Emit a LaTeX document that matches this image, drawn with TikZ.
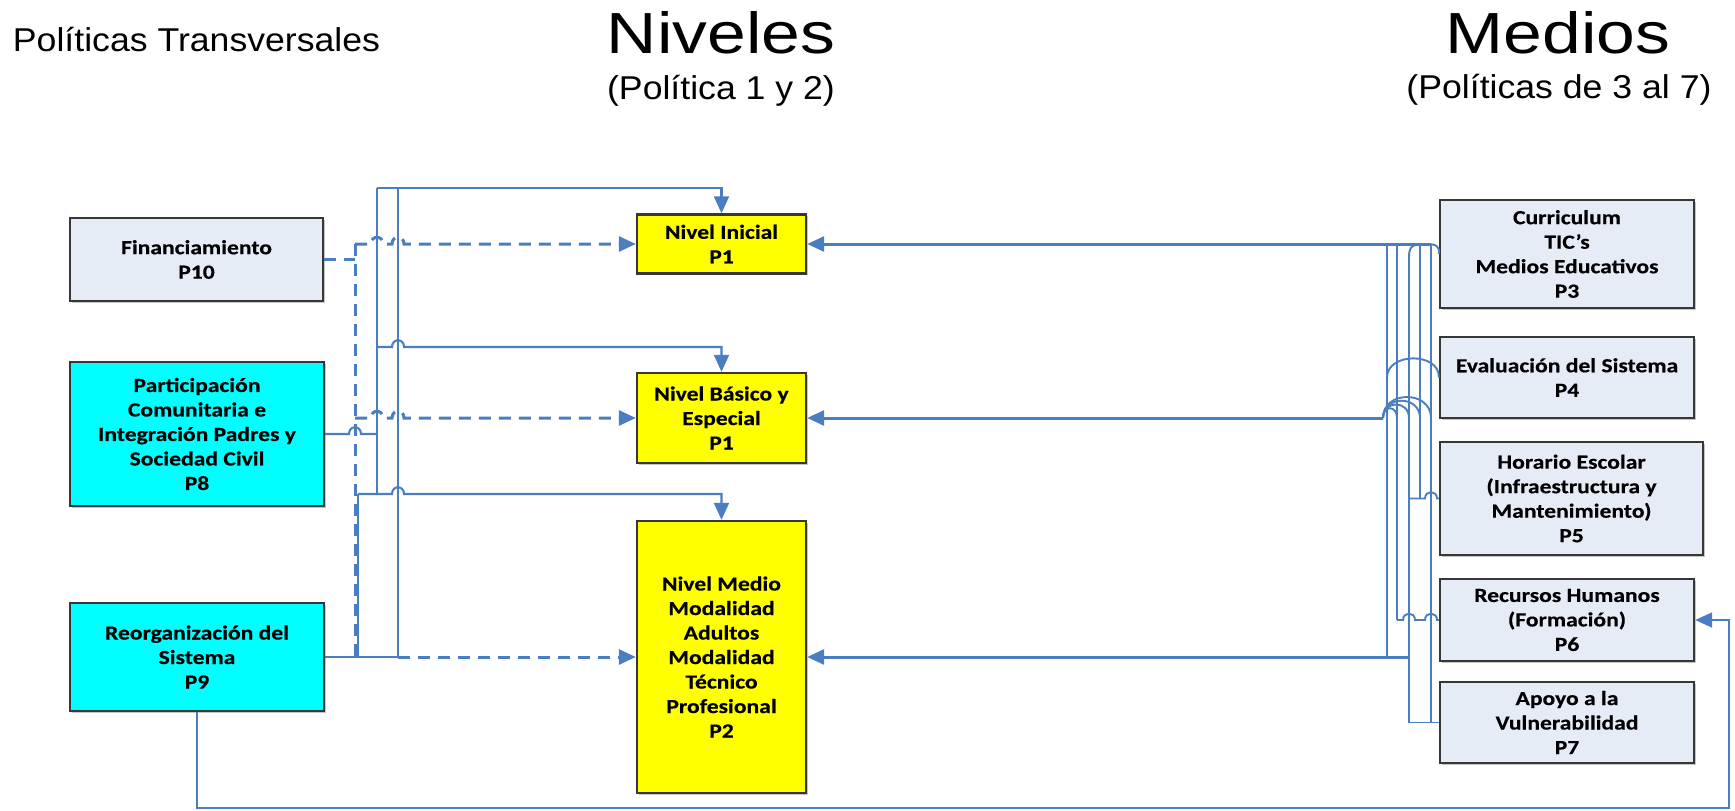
\documentclass[tikz,border=0pt]{standalone}
\usepackage{fontspec}
\setmainfont{Liberation Sans}
\newfontfamily\boxfont{Carlito}[FakeStretch=1.18,FakeBold=0.4]
\newfontfamily\headfont{Liberation Sans}[FakeStretch=1.2]
\newfontfamily\subfont{Liberation Sans}[FakeStretch=1.08]
\usetikzlibrary{arrows.meta,shadows}
\definecolor{linec}{RGB}{74,126,193}
\definecolor{lightfill}{RGB}{230,236,246}
\definecolor{boxborder}{RGB}{55,55,55}
\definecolor{cyanfill}{RGB}{0,255,255}
\definecolor{yellowfill}{RGB}{255,255,0}
\tikzset{
  box/.style={draw=boxborder, line width=2.4pt, align=center, inner sep=0pt,
    font=\boxfont\bfseries\fontsize{20}{24.5}\selectfont,
    drop shadow={shadow xshift=1.5pt, shadow yshift=-1.5pt, fill=black!45, opacity=0.5}},
  graybox/.style={box, fill=lightfill},
  cyanbox/.style={box, fill=cyanfill},
  yellowbox/.style={box, fill=yellowfill},
  tip/.style={-{Triangle[length=17pt,width=15pt]}},
  sol/.style={draw=linec, line width=2.1pt},
  solthick/.style={draw=linec, line width=3pt},
  rv/.style={draw=linec, line width=1.9pt},
  fb/.style={draw=linec, line width=1.8pt},
  dsh/.style={draw=linec, line width=3pt, dash pattern=on 12pt off 8pt},
}
\begin{document}
\begin{tikzpicture}[x=1pt,y=-1pt]
\useasboundingbox (0,0) rectangle (1735,811);

% headings
\node[font=\subfont\fontsize{33}{38}\selectfont] (ht) at (196.5,39.5) {Políticas Transversales};
\node[font=\headfont\fontsize{58}{64}\selectfont] (hn) at (721,33) {Niveles};
\node[font=\subfont\fontsize{33}{38}\selectfont] (hns) at (721,91) {(Política 1 y 2)};
\node[font=\headfont\fontsize{58}{64}\selectfont] (hm) at (1558,33) {Medios};
\node[font=\subfont\fontsize{33}{38}\selectfont] (hms) at (1559,90) {(Políticas de 3 al 7)};

% left boxes
\node[graybox, minimum width=253pt, minimum height=83pt] (fin) at (196.5,259.5) {Financiamiento\\P10};
\node[cyanbox, minimum width=254pt, minimum height=144pt] (p8) at (197,434) {Participación\\Comunitaria e\\Integración Padres y\\Sociedad Civil\\P8};
\node[cyanbox, minimum width=254pt, minimum height=108pt] (p9) at (197,657) {Reorganización del\\Sistema\\P9};

% middle boxes
\node[yellowbox, minimum width=169pt, minimum height=59pt] (ini) at (721.5,244) {Nivel Inicial\\P1};
\node[yellowbox, minimum width=169pt, minimum height=90pt] (bas) at (721.5,418) {Nivel Básico y\\Especial\\P1};
\node[yellowbox, minimum width=169pt, minimum height=272pt] (med) at (721.5,657) {Nivel Medio\\Modalidad\\Adultos\\Modalidad\\Técnico\\Profesional\\P2};

% right boxes
\node[graybox, minimum width=254pt, minimum height=108pt] (p3) at (1567,254) {Curriculum\\TIC’s\\Medios Educativos\\P3};
\node[graybox, minimum width=254pt, minimum height=81pt] (p4) at (1567,377.5) {Evaluación del Sistema\\P4};
\node[graybox, minimum width=263pt, minimum height=113pt] (p5) at (1571.5,498.5) {Horario Escolar\\(Infraestructura y\\Mantenimiento)\\P5};
\node[graybox, minimum width=254pt, minimum height=82pt] (p6) at (1567,620) {Recursos Humanos\\(Formación)\\P6};
\node[graybox, minimum width=254pt, minimum height=81pt] (p7) at (1567,722.5) {Apoyo a la\\Vulnerabilidad\\P7};

% ---- left dashed network
\draw[dsh] (fin.east) -- (355,259.5);
\draw[dsh] (355,244) -- (355,657);
\draw[dsh,tip] (355,244) -- (371,244) .. controls (371,235) and (383,235) .. (383,244) -- (392,244) .. controls (392,235) and (404,235) .. (404,244) -- (ini.west);
\draw[dsh,tip] (355,418) -- (371,418) .. controls (371,409) and (383,409) .. (383,418) -- (392,418) .. controls (392,409) and (404,409) .. (404,418) -- (bas.west);
\draw[dsh,tip] (398,657) -- (med.west);

% ---- left solid network
\draw[sol] (377,188) -- (377,494);
\draw[sol] (398,188) -- (398,657);
\draw[sol] (358,494) -- (358,657);
\draw[sol] (p8.east) -- (349,434) .. controls (349,425) and (361,425) .. (361,434) -- (377,434);
\draw[sol] (p9.east) -- (398,657);
\draw[sol,tip] (377,188) -- (ini.north |- 0,188) -- (ini.north);
\draw[sol,tip] (377,347) -- (392,347) .. controls (392,338) and (404,338) .. (404,347) -- (bas.north |- 0,347) -- (bas.north);
\draw[sol,tip] (358,494) -- (392,494) .. controls (392,485) and (404,485) .. (404,494) -- (med.north |- 0,494) -- (med.north);

% ---- feedback line
\draw[fb,tip] (p9.south) -- (197,808) -- (1729,808) -- (1729,620) -- (p6.east);

% ---- right network
\draw[solthick,tip] (1431,244) -- (ini.east);
\draw[solthick,tip] (1383,418) -- (bas.east);
\draw[solthick,tip] (1409,657) -- (med.east);
\draw[rv] (1387,244) -- (1387,657);
\draw[rv] (1397,244) -- (1397,620);
\draw[rv] (1409,257) -- (1409,722.5);
\draw[rv] (1420,244) -- (1420,498.5);
\draw[rv] (1431,244) -- (1431,722.5);
\draw[rv] (p3.west) .. controls (1440,246) and (1436,244) .. (1426,244);
\draw[rv] (1409,257) .. controls (1409,249) and (1411,245) .. (1417,245);
\draw[rv] (p4.west) .. controls (1440,352) and (1387,352) .. (1387,377.5);
\draw[rv] (p5.west) -- (1437,498.5) .. controls (1437,490) and (1425,490) .. (1425,498.5) -- (1409,498.5);
\draw[rv] (p6.west) -- (1437,620) .. controls (1437,611.5) and (1425,611.5) .. (1425,620) -- (1415,620) .. controls (1415,611.5) and (1403,611.5) .. (1403,620) -- (1397,620);
\draw[rv] (p7.west) -- (1409,722.5);
\draw[rv] (1383,418) .. controls (1383,405) and (1397,405) .. (1397,418);
\draw[rv] (1383,418) .. controls (1383,400) and (1409,400) .. (1409,418);
\draw[rv] (1383,418) .. controls (1383,395) and (1420,395) .. (1420,418);
\draw[rv] (1383,418) .. controls (1383,390) and (1431,390) .. (1431,418);
\end{tikzpicture}
\end{document}
